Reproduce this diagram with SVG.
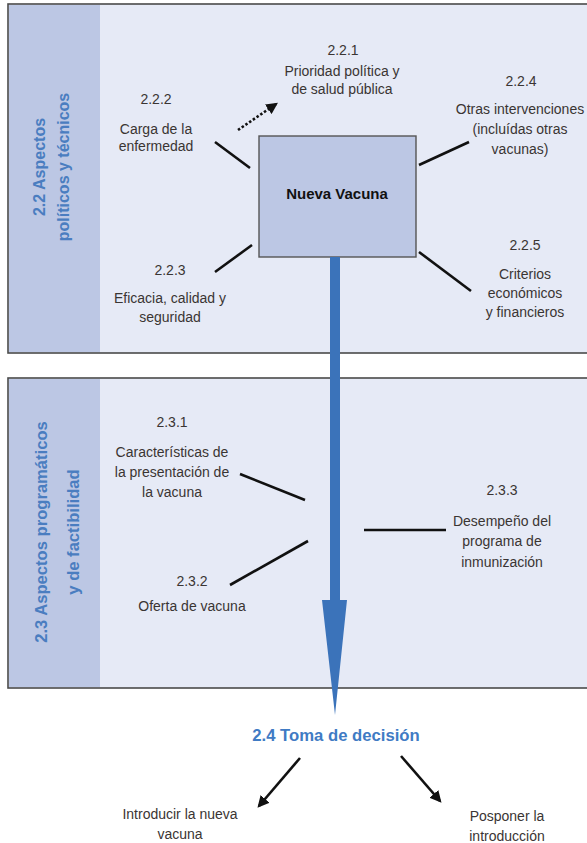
<svg xmlns="http://www.w3.org/2000/svg" width="587" height="843" viewBox="0 0 587 843">
<defs>
<style>
.panel{fill:#E6EAF6;stroke:#4a4a4a;stroke-width:1.6}
.side{fill:#BCC7E4}
.t{font-family:"Liberation Sans",Arial,sans-serif;font-size:14px;fill:#3a3533;text-anchor:middle}
.st{font-family:"Liberation Sans",Arial,sans-serif;font-size:16px;font-weight:bold;fill:#4A7DC0;text-anchor:middle}
.ln{stroke:#111;stroke-width:2.6;fill:none}
</style>
<marker id="ah" viewBox="0 0 10 10" refX="8" refY="5" markerWidth="4.5" markerHeight="4.5" orient="auto"><path d="M0,0 L10,5 L0,10 Z" fill="#111"/></marker>
</defs>
<g id="panel-22">
<rect class="panel" x="8" y="4" width="590" height="349"/>
<rect class="side" x="9" y="5" width="91" height="347"/>
<text class="st" transform="translate(45,167) rotate(-90)">2.2 Aspectos</text>
<text class="st" transform="translate(69,167) rotate(-90)">políticos y técnicos</text>
</g>
<g id="panel-23">
<rect class="panel" x="8" y="378" width="590" height="310"/>
<rect class="side" x="9" y="379" width="91" height="308"/>
<text class="st" style="font-size:16.6px" transform="translate(47,532) rotate(-90)">2.3 Aspectos programáticos</text>
<text class="st" style="font-size:16.6px" transform="translate(79,532) rotate(-90)">y de factibilidad</text>
</g>
<g id="nueva-vacuna">
<rect x="259" y="136" width="157" height="121" fill="#BCC7E4" stroke="#555" stroke-width="1.4"/>
<text class="t" x="337" y="199" style="font-weight:bold;font-size:15px;fill:#111">Nueva Vacuna</text>
</g>
<g id="connectors">
<path d="M330,257 H340 V600 H347 L335,715 L322,600 H330 Z" fill="#3B73BA"/>
<line class="ln" x1="238" y1="130" x2="276" y2="104" stroke-dasharray="2.5,2" marker-end="url(#ah)"/>
<line class="ln" x1="215" y1="142" x2="250" y2="168"/>
<line class="ln" x1="215" y1="272" x2="252" y2="245"/>
<line class="ln" x1="419" y1="165" x2="469" y2="142"/>
<line class="ln" x1="419" y1="252" x2="471" y2="291"/>
<line class="ln" x1="240" y1="474" x2="305" y2="500"/>
<line class="ln" x1="230" y1="585" x2="308" y2="541"/>
<line class="ln" x1="364" y1="530" x2="446" y2="530"/>
<line class="ln" x1="300" y1="758" x2="259" y2="806" marker-end="url(#ah)"/>
<line class="ln" x1="401" y1="756" x2="440" y2="801" marker-end="url(#ah)"/>
</g>
<g id="n221"><text class="t" x="343" y="55">2.2.1</text><text class="t" x="342" y="76">Prioridad política y</text><text class="t" x="342" y="94">de salud pública</text></g>
<g id="n222"><text class="t" x="156" y="104">2.2.2</text><text class="t" x="156" y="134">Carga de la</text><text class="t" x="156" y="151">enfermedad</text></g>
<g id="n223"><text class="t" x="170" y="275">2.2.3</text><text class="t" x="170" y="303">Eficacia, calidad y</text><text class="t" x="170" y="322">seguridad</text></g>
<g id="n224"><text class="t" x="521" y="86">2.2.4</text><text class="t" x="520" y="114">Otras intervenciones</text><text class="t" x="520" y="134">(incluídas otras</text><text class="t" x="520" y="154">vacunas)</text></g>
<g id="n225"><text class="t" x="525" y="250">2.2.5</text><text class="t" x="525" y="279">Criterios</text><text class="t" x="525" y="298">económicos</text><text class="t" x="525" y="317">y financieros</text></g>
<g id="n231"><text class="t" x="172" y="427">2.3.1</text><text class="t" x="172" y="457">Características de</text><text class="t" x="172" y="477">la presentación de</text><text class="t" x="172" y="497">la vacuna</text></g>
<g id="n232"><text class="t" x="192" y="586">2.3.2</text><text class="t" x="192" y="611">Oferta de vacuna</text></g>
<g id="n233"><text class="t" x="502" y="495">2.3.3</text><text class="t" x="502" y="526">Desempeño del</text><text class="t" x="502" y="546">programa de</text><text class="t" x="502" y="567">inmunización</text></g>
<g id="n24"><text class="st" x="336" y="741" style="font-size:16.7px;fill:#3F7BC4">2.4 Toma de decisión</text></g>
<g id="introducir"><text class="t" x="180" y="819">Introducir la nueva</text><text class="t" x="180" y="839">vacuna</text></g>
<g id="posponer"><text class="t" x="507" y="821">Posponer la</text><text class="t" x="507" y="841">introducción</text></g>
</svg>
